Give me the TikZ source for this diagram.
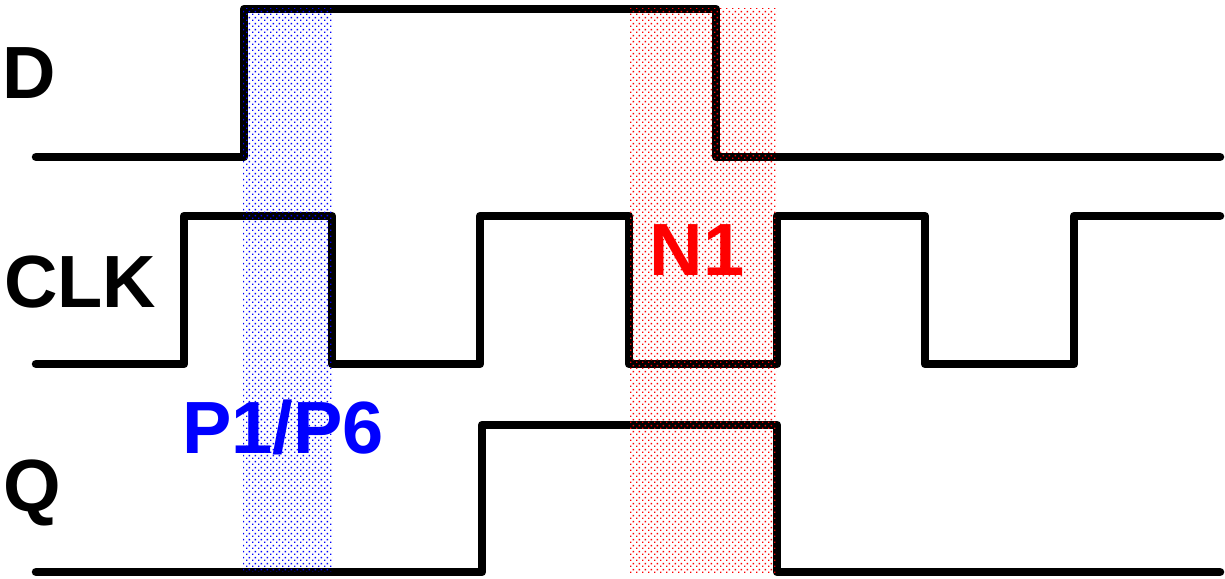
\documentclass[tikz,border=0pt]{standalone}
\usepackage{fontspec}
\setmainfont{Liberation Sans}
\usetikzlibrary{patterns.meta}
\tikzdeclarepattern{name=finedots, type=uncolored,
  bounding box={(0pt,0pt) and (6pt,6pt)}, tile size={(6pt,6pt)},
  code={\fill (0pt,0pt) rectangle (1.7pt,1.7pt); \fill (3pt,3pt) rectangle (4.7pt,4.7pt);}}
\begin{document}
\begin{tikzpicture}[x=1pt,y=-1pt,
  wave/.style={line width=8.5pt, line join=round, line cap=round, black},
  lbl/.style={font=\fontsize{74}{74}\selectfont\bfseries, inner sep=0pt, anchor=base west},
  tag/.style={font=\fontsize{74}{74}\selectfont\bfseries, inner sep=0pt, anchor=base},
  shadeblue/.style={pattern=finedots, pattern color=blue},
  shadered/.style={pattern=finedots, pattern color=red}]
\useasboundingbox (0,0) rectangle (1225,578);
% waveforms
\draw[wave] (36,157) -- (244,157) -- (244,9) -- (716,9) -- (716,157) -- (1220,157);
\draw[wave] (36,364) -- (184,364) -- (184,216) -- (332,216) -- (332,364) -- (480,364) -- (480,216)
  -- (629,216) -- (629,364) -- (777,364) -- (777,216) -- (925,216) -- (925,364) -- (1074,364)
  -- (1074,216) -- (1220,216);
\draw[wave] (36,572) -- (482,572) -- (482,425) -- (777,425) -- (777,572) -- (1220,572);
% shaded regions
\fill[shadeblue] (243,9) rectangle (332,571);
\fill[shadered] (630,9) rectangle (776,573);
% labels
\node[lbl] (d) at (2,98) {D};
\node[lbl] (clk) at (4,307) {CLK};
\node[lbl] (q) at (3,511) {Q};
\node[tag, text=blue] (p) at (283,453) {P1/P6};
\node[tag, text=red] (n) at (697,275) {N1};
\end{tikzpicture}
\end{document}
